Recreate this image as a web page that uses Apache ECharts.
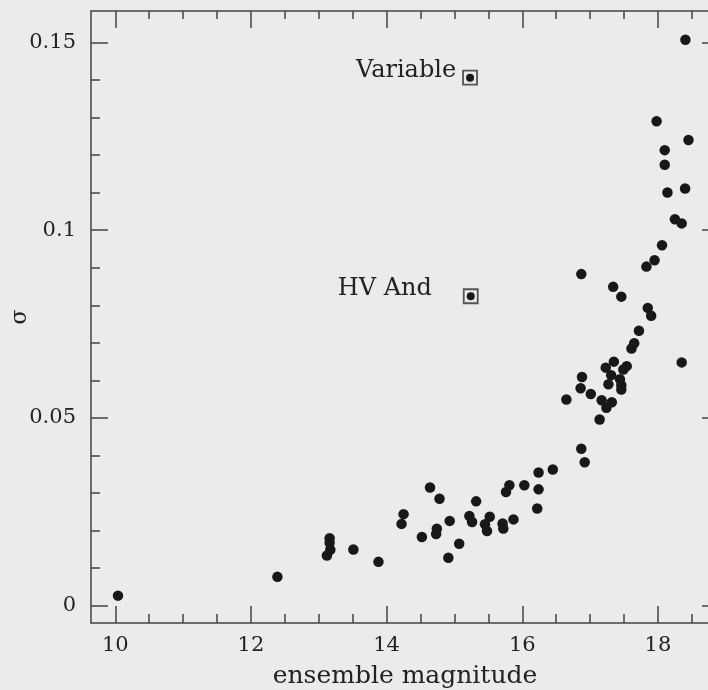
<!DOCTYPE html>
<html>
<head>
<meta charset="utf-8">
<script src="https://cdn.jsdelivr.net/npm/echarts@6/dist/echarts.min.js"></script>
<style>
html,body{margin:0;padding:0;background:#ebebeb;}
#chart{width:708px;height:690px;}
</style>
</head>
<body>
<div id="chart"></div>
<script>
// ---- data ----
var stars = [
  [10.04, 0.0027], [12.39, 0.0077],
  [13.16, 0.0180], [13.16, 0.0168], [13.17, 0.0149], [13.12, 0.0134],
  [13.51, 0.0150], [13.88, 0.0117],
  [14.25, 0.0244], [14.22, 0.0218], [14.52, 0.0183], [14.64, 0.0315],
  [14.78, 0.0285], [14.74, 0.0205], [14.73, 0.0191], [14.93, 0.0226],
  [14.91, 0.0128], [15.07, 0.0165], [15.22, 0.0239], [15.26, 0.0223],
  [15.32, 0.0278], [15.45, 0.0217], [15.48, 0.0199], [15.52, 0.0237],
  [15.71, 0.0219], [15.72, 0.0206], [15.87, 0.0230], [15.76, 0.0303],
  [15.81, 0.0321], [16.03, 0.0321], [16.22, 0.0259], [16.24, 0.0310],
  [16.24, 0.0355], [16.45, 0.0363], [16.65, 0.0549], [16.87, 0.0418],
  [16.92, 0.0382], [16.86, 0.0579], [16.88, 0.0609], [16.87, 0.0883],
  [17.01, 0.0564], [17.14, 0.0496], [17.17, 0.0547], [17.24, 0.0527],
  [17.32, 0.0542], [17.27, 0.0590], [17.23, 0.0634], [17.31, 0.0614],
  [17.35, 0.0650], [17.34, 0.0849], [17.44, 0.0603], [17.46, 0.0587],
  [17.46, 0.0576], [17.49, 0.0629], [17.54, 0.0638], [17.46, 0.0823],
  [17.61, 0.0685], [17.65, 0.0699], [17.72, 0.0732], [17.85, 0.0793],
  [17.90, 0.0772], [17.83, 0.0903], [17.95, 0.0920], [17.98, 0.1290],
  [18.06, 0.0960], [18.10, 0.1213], [18.10, 0.1174], [18.14, 0.1100],
  [18.25, 0.1029], [18.35, 0.1018], [18.35, 0.0648], [18.40, 0.1111],
  [18.45, 0.1240], [18.405, 0.1507]
];
var specialNames = ['Variable', 'HV And'];
var specialX = [15.23, 15.24];
var specialY = [0.1406, 0.0824];

var xMajorTicks = [10, 12, 14, 16, 18];
var xMinorTicks = [10.5, 11, 11.5, 12.5, 13, 13.5, 14.5, 15, 15.5, 16.5, 17, 17.5, 18.5];
var yMajorTicks = [0, 0.05, 0.1, 0.15];
var yMinorTicks = [0.01, 0.02, 0.03, 0.04, 0.06, 0.07, 0.08, 0.09, 0.11, 0.12, 0.13, 0.14];
var xName = 'ensemble magnitude';
var yName = 'σ';

// ---- chart ----
var XMIN = 9.642, XMAX = 18.9, YMIN = -0.00458, YMAX = 0.15834;
var FONT = 'DejaVu Serif';
var axisColor = '#444444';
var textColor = '#222222';

function xAx(pos, ticks, len, main) {
  return {
    type: 'value', position: pos, min: XMIN, max: XMAX,
    splitLine: {show: false},
    axisLine: {show: main, onZero: false, lineStyle: {color: axisColor, width: 1.5}},
    axisTick: {show: true, inside: true, length: len, customValues: ticks,
      lineStyle: {color: axisColor, width: 1.5}},
    axisLabel: main && pos === 'bottom' ? {show: true, customValues: xMajorTicks, margin: 12,
      fontFamily: FONT, fontSize: 21, color: textColor} : {show: false},
    name: main && pos === 'bottom' ? xName : '',
    nameLocation: 'middle', nameGap: 41, nameMoveOverlap: false,
    nameTextStyle: {fontFamily: FONT, fontSize: 25, color: textColor}
  };
}
function yAx(pos, ticks, len, main) {
  return {
    type: 'value', position: pos, min: YMIN, max: YMAX,
    splitLine: {show: false},
    axisLine: {show: main, onZero: false, lineStyle: {color: axisColor, width: 1.5}},
    axisTick: {show: true, inside: true, length: len, customValues: ticks,
      lineStyle: {color: axisColor, width: 1.5}},
    axisLabel: main && pos === 'left' ? {show: true, customValues: yMajorTicks, margin: 15,
      fontFamily: FONT, fontSize: 21, color: textColor,
      formatter: function (v) { return String(Math.round(v * 1000) / 1000); }} : {show: false},
    name: main && pos === 'left' ? yName : '',
    nameLocation: 'middle', nameGap: 60, nameRotate: 90, nameMoveOverlap: false,
    nameTextStyle: {fontFamily: FONT, fontSize: 22, color: textColor}
  };
}

var boxData = specialNames.map(function (n, i) {
  return {
    value: [specialX[i], specialY[i]],
    label: {
      show: true, formatter: n, position: 'left',
      distance: i === 0 ? 6 : 31, offset: [0, -7],
      fontFamily: FONT, fontSize: 24, color: textColor
    }
  };
});
var boxDots = specialNames.map(function (n, i) { return [specialX[i], specialY[i]]; });

var chart = echarts.init(document.getElementById('chart'), null, {renderer: 'canvas'});
chart.setOption({
  backgroundColor: '#ebebeb',
  animation: false,
  grid: {left: 91, top: 11, right: -11, bottom: 67, containLabel: false, outerBoundsMode: 'none'},
  xAxis: [
    xAx('bottom', xMajorTicks, 17, true),
    xAx('bottom', xMinorTicks, 9, false),
    xAx('top', xMajorTicks, 17, true),
    xAx('top', xMinorTicks, 8, false)
  ],
  yAxis: [
    yAx('left', yMajorTicks, 17, true),
    yAx('left', yMinorTicks, 9, false),
    yAx('right', yMajorTicks, 17, true),
    yAx('right', yMinorTicks, 9, false)
  ],
  series: [
    {
      type: 'scatter', data: stars, symbol: 'circle', symbolSize: 10.5,
      itemStyle: {color: '#181818', opacity: 1}, xAxisIndex: 0, yAxisIndex: 0
    },
    {
      type: 'scatter', data: boxData, symbol: 'rect', symbolSize: 14,
      itemStyle: {color: 'rgba(0,0,0,0)', borderColor: '#555', borderWidth: 1.8, opacity: 1},
      xAxisIndex: 0, yAxisIndex: 0
    },
    {
      type: 'scatter', data: boxDots, symbol: 'circle', symbolSize: 8,
      itemStyle: {color: '#181818', opacity: 1}, xAxisIndex: 0, yAxisIndex: 0
    }
  ]
});
</script>
</body>
</html>
